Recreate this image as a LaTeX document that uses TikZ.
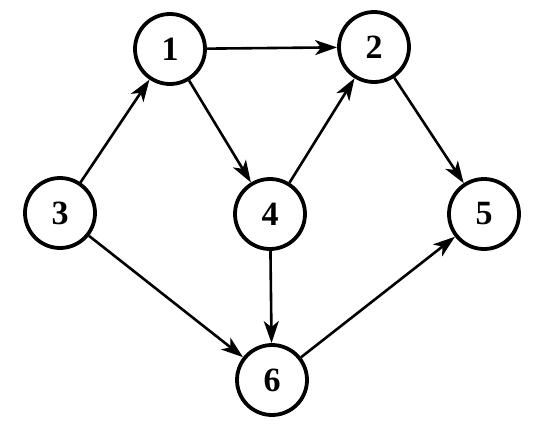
\documentclass[tikz,border=0pt]{standalone}
\usepackage{fontspec}
\setmainfont{Liberation Serif}
\usetikzlibrary{arrows.meta}
\begin{document}
\begin{tikzpicture}[x=1pt,y=-1pt,
  vert/.style={circle,draw,line width=3.8pt,minimum size=70pt,inner sep=0pt,font=\fontsize{34}{36}\selectfont\bfseries},
  edge/.style={line width=2.6pt,-{Stealth[length=22pt,width=15pt,inset=6pt]}}]
\useasboundingbox (0,0) rectangle (546,426);
\node[vert] (n1) at (170,49) {1};
\node[vert] (n2) at (374,47) {2};
\node[vert] (n3) at (60,213) {3};
\node[vert] (n4) at (270,214) {4};
\node[vert] (n5) at (484,214) {5};
\node[vert] (n6) at (272,380) {6};
\draw[edge] (n1) -- (n2);
\draw[edge] (n3) -- (n1);
\draw[edge] (n1) -- (n4);
\draw[edge] (n4) -- (n2);
\draw[edge] (n2) -- (n5);
\draw[edge] (n3) -- (n6);
\draw[edge] (n4) -- (n6);
\draw[edge] (n6) -- (n5);
\end{tikzpicture}
\end{document}
